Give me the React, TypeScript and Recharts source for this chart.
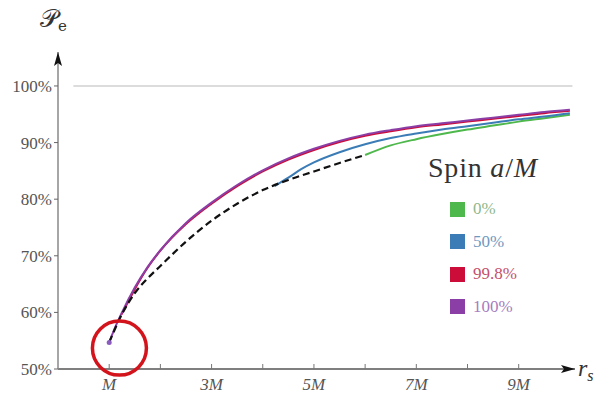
import React from 'react';
import {
  ComposedChart,
  Line,
  XAxis,
  YAxis,
  ReferenceLine,
  ReferenceDot,
  Legend,
} from 'recharts';

// ISCO locus (dashed) and efficiency curves per spin, P_e in %
const iscoR = [1, 1.25, 1.5, 1.75, 2, 2.5, 3, 3.5, 4, 4.5, 5, 5.5, 6];
const iscoP = [54.7, 59.7, 63.4, 66.0, 68.2, 72.5, 76.2, 79.2, 81.6, 83.4, 84.9, 86.4, 87.8];

const spin0R = [6, 6.5, 7, 7.5, 8, 8.5, 9, 9.5, 10];
const spin0P = [87.8, 89.5, 90.6, 91.5, 92.3, 93.0, 93.7, 94.3, 94.9];

const spin50R = [4.23, 4.5, 4.75, 5, 5.5, 6, 6.5, 7, 7.5, 8, 8.5, 9, 9.5, 10];
const spin50P = [82.3, 83.8, 85.3, 86.5, 88.3, 89.7, 90.8, 91.6, 92.3, 92.9, 93.5, 94.1, 94.6, 95.2];

const spin998R = [1.24, 1.35, 1.5, 1.75, 2, 2.5, 3, 3.5, 4, 4.5, 5, 5.5, 6, 6.5, 7, 7.5, 8, 8.5, 9, 9.5, 10];
const spin998P = [59.6, 61.5, 64.1, 67.9, 70.9, 75.6, 79.2, 82.3, 84.9, 87.0, 88.7, 90.1, 91.2, 92.0, 92.7, 93.2, 93.7, 94.2, 94.7, 95.2, 95.6];

const spin100R = [1, 1.1, 1.25, 1.5, 1.75, 2, 2.5, 3, 3.5, 4, 4.5, 5, 5.5, 6, 6.5, 7, 7.5, 8, 8.5, 9, 9.5, 10];
const spin100P = [54.7, 57.0, 60.0, 64.4, 68.0, 71.0, 75.8, 79.4, 82.5, 85.1, 87.2, 88.9, 90.3, 91.4, 92.2, 92.9, 93.4, 93.9, 94.4, 94.9, 95.4, 95.8];

const spinNames = ['0%', '50%', '99.8%', '100%'];
const spinColors = ['#4fb84c', '#3b7cb6', '#cc0c39', '#8b3ea6'];
const spinTextColors = ['#8fb88c', '#6f98c0', '#c4506c', '#a57cc0'];

const xTicks = [1, 2, 3, 4, 5, 6, 7, 8, 9];
const yTicks = [50, 60, 70, 80, 90, 100];

const circledPoint = { r: 1.2, p: 53.7 };
const startPoint = { r: 1, p: 54.7 };

const toPoints = (rs: number[], ps: number[]) => rs.map((r, i) => ({ r, p: ps[i] }));

const series = [
  toPoints(spin0R, spin0P),
  toPoints(spin50R, spin50P),
  toPoints(spin998R, spin998P),
  toPoints(spin100R, spin100P),
];
const iscoData = toPoints(iscoR, iscoP);

const serif = '"Liberation Serif", "DejaVu Serif", serif';

function SpinLegend({ payload }: any) {
  const items = (payload || [])
    .filter((e: any) => spinNames.includes(e.value))
    .sort((a: any, b: any) => spinNames.indexOf(a.value) - spinNames.indexOf(b.value));
  return (
    <div style={{ fontFamily: serif }}>
      <div style={{ fontSize: 28, color: '#333', whiteSpace: 'nowrap', lineHeight: '30px', letterSpacing: 0.8 }}>
        Spin <i>a</i>/<i>M</i>
      </div>
      <div style={{ marginTop: 10, marginLeft: 22 }}>
        {items.map((e: any) => {
          const idx = spinNames.indexOf(e.value);
          return (
            <div key={e.value} style={{ display: 'flex', alignItems: 'center', height: 32.5 }}>
              <span
                style={{
                  display: 'inline-block',
                  width: 15,
                  height: 15,
                  background: spinColors[idx],
                  marginRight: 8,
                }}
              />
              <span style={{ fontSize: 17, color: spinTextColors[idx] }}>{e.value}</span>
            </div>
          );
        })}
      </div>
    </div>
  );
}

export default function App() {
  return (
    <div style={{ position: 'absolute', left: 0, top: 0, width: 606, height: 395, background: '#fff' }}>
      <ComposedChart width={606} height={395} margin={{ top: 52, right: 31, bottom: 0, left: 0 }}>
        <defs>
          <marker
            id="arrow"
            viewBox="0 0 14 8"
            refX="14"
            refY="4"
            markerWidth="14"
            markerHeight="8"
            markerUnits="userSpaceOnUse"
            orient="auto-start-reverse"
          >
            <path d="M0,0 L14,4 L0,8 L3,4 z" fill="#111" />
          </marker>
        </defs>
        {/* negative tick size puts the marks inside the plot, like the original */}
        <XAxis
          dataKey="r"
          type="number"
          domain={[0, 10.1]}
          ticks={xTicks}
          tickFormatter={(v) => (v % 2 === 1 ? (v === 1 ? 'M' : `${v}M`) : '')}
          tick={{ fontFamily: serif, fontSize: 17, fill: '#555', fontStyle: 'italic' }}
          tickSize={-5}
          tickMargin={14}
          tickLine={{ stroke: '#777' }}
          axisLine={{ stroke: '#555', strokeWidth: 1.5, markerEnd: 'url(#arrow)' }}
          height={26}
        />
        <YAxis
          dataKey="p"
          type="number"
          domain={[50, 106]}
          ticks={yTicks}
          tickFormatter={(v) => `${v}%`}
          tick={{ fontFamily: serif, fontSize: 17, fill: '#555' }}
          tickSize={4}
          tickMargin={2}
          tickLine={{ stroke: '#666' }}
          axisLine={{ stroke: '#888', strokeWidth: 1.5, markerStart: 'url(#arrow)' }}
          width={58}
        />
        <ReferenceLine
          segment={[
            { x: 0.3, y: 100 },
            { x: 10.05, y: 100 },
          ]}
          stroke="#dcdcdc"
          strokeWidth={2}
        />
        {series.map((d, i) => (
          <Line
            key={spinNames[i]}
            data={d}
            dataKey="p"
            name={spinNames[i]}
            type="monotone"
            stroke={spinColors[i]}
            strokeWidth={2}
            dot={false}
            activeDot={false}
            isAnimationActive={false}
          />
        ))}
        <Line
          data={iscoData}
          dataKey="p"
          name="ISCO"
          type="monotone"
          stroke="#111"
          strokeWidth={2.2}
          strokeDasharray="7 4"
          dot={false}
          activeDot={false}
          legendType="none"
          isAnimationActive={false}
        />
        <ReferenceDot x={startPoint.r} y={startPoint.p} r={2.5} fill="#8b5cc0" stroke="none" />
        <ReferenceDot
          x={circledPoint.r}
          y={circledPoint.p}
          r={27}
          fill="none"
          stroke="#d4141c"
          strokeWidth={3.5}
        />
        <Legend
          layout="vertical"
          align="center"
          verticalAlign="middle"
          content={<SpinLegend />}
          wrapperStyle={{ left: 428, top: 153, width: 178 }}
        />
      </ComposedChart>
      <div
        style={{
          position: 'absolute',
          left: 40,
          top: 4,
          fontFamily: '"DejaVu Serif", serif',
          fontSize: 25,
          color: '#333',
          whiteSpace: 'nowrap',
        }}
      >
        𝒫<span style={{ fontSize: 15, position: 'relative', top: 4 }}>e</span>
      </div>
      <div
        style={{
          position: 'absolute',
          left: 578,
          top: 355,
          fontFamily: serif,
          fontSize: 24,
          fontStyle: 'italic',
          color: '#333',
          whiteSpace: 'nowrap',
        }}
      >
        r<span style={{ fontSize: 16, position: 'relative', top: 5 }}>s</span>
      </div>
    </div>
  );
}
